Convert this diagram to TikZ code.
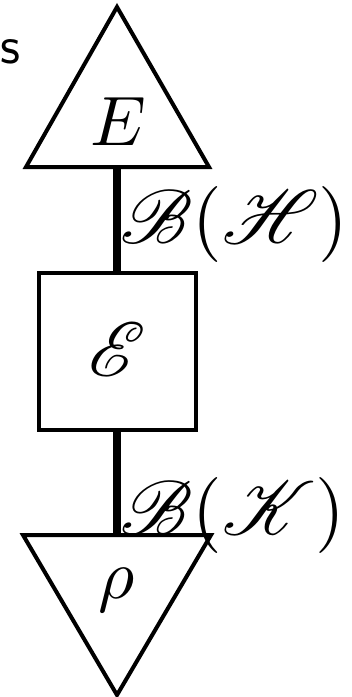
\documentclass[tikz,border=0pt]{standalone}
\usepackage{amsmath,amssymb}
\usepackage{mathrsfs}
\usetikzlibrary{positioning}

\begin{document}
\begin{tikzpicture}[x=1pt, y=-1pt,
        outline/.style={draw=black, line width=4pt, line join=miter},
        chanbox/.style={draw=black, line width=4pt, minimum width=157pt, minimum height=157pt, inner sep=0pt},
        wire/.style={draw=black, line width=8pt},
        sym/.style={inner sep=0pt, scale=7},
        lab/.style={inner sep=0pt, anchor=west, scale=7.6}
    ]
    \useasboundingbox (0,0) rectangle (352,697);

    % Nodes
    \draw[outline] (117,7) -- (209,167) -- (26,167) -- cycle;
    \coordinate (Ebase) at (117,167);
    \node[sym] (E) at (118,122) {$E$};

    \node[chanbox] (chan) at (117,351.5) {};
    \node[sym, scale=1.1] (calE) at (117,350) {$\mathscr{E}$};

    \draw[outline] (23,535) -- (211,535) -- (117,695) -- cycle;
    \coordinate (rhobase) at (117,535);
    \node[sym] (rho) at (117,590) {$\rho$};

    \node[inner sep=0pt, scale=5.2, font=\sffamily] (frag) at (10,52) {s};

    % Wires
    \draw[wire] (Ebase) -- (chan.north);
    \draw[wire] (chan.south) -- (rhobase);

    % Labels
    \node[lab] (BH) at (119,224) {$\mathscr{B}(\mathscr{H})$};
    \node[lab] (BK) at (119,515) {$\mathscr{B}(\mathscr{K})$};
\end{tikzpicture}
\end{document}
